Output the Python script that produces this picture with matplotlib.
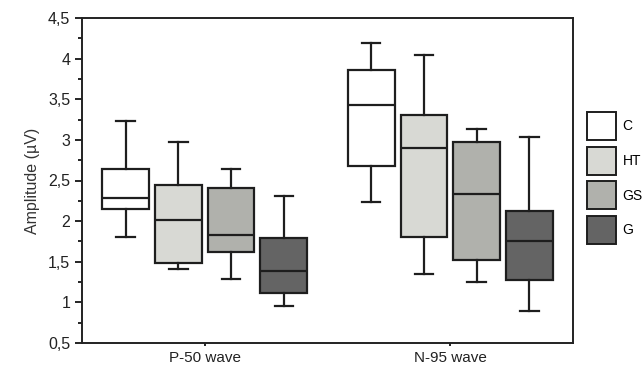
import matplotlib
matplotlib.use("Agg")
import matplotlib.pyplot as plt
from matplotlib.patches import Patch
from matplotlib.ticker import MultipleLocator, FuncFormatter

plt.rcParams["font.family"] = ["Liberation Sans", "DejaVu Sans"]

groups = ["C", "HT", "GS", "G"]
waves = ["P-50 wave", "N-95 wave"]
colors = ["#ffffff", "#d8d9d4", "#b0b1ac", "#646464"]

# per wave: lists over groups
whislo = {"P-50 wave": [1.81, 1.415, 1.29, 0.955], "N-95 wave": [2.23, 1.35, 1.25, 0.89]}
q1 = {"P-50 wave": [2.145, 1.49, 1.62, 1.12], "N-95 wave": [2.675, 1.81, 1.52, 1.27]}
med = {"P-50 wave": [2.285, 2.02, 1.83, 1.39], "N-95 wave": [3.425, 2.90, 2.34, 1.755]}
q3 = {"P-50 wave": [2.64, 2.44, 2.41, 1.79], "N-95 wave": [3.856, 3.31, 2.98, 2.12]}
whishi = {"P-50 wave": [3.23, 2.98, 2.64, 2.31], "N-95 wave": [4.196, 4.05, 3.13, 3.03]}

fig = plt.figure(figsize=(6.44, 3.66), dpi=100)
ax = fig.add_axes([82/644, 1 - 343/366, 491/644, 325/366])

spacing = 0.2147
offsets = [-1.5, -0.5, 0.5, 1.5]
edge = "#1e1e1e"
lw = 1.6
for wi, w in enumerate(waves):
    center = wi + 0.5
    for gi, g in enumerate(groups):
        st = [dict(med=med[w][gi], q1=q1[w][gi], q3=q3[w][gi],
                   whislo=whislo[w][gi], whishi=whishi[w][gi], fliers=[])]
        ax.bxp(st, positions=[center + offsets[gi] * spacing], widths=0.19,
               patch_artist=True, showfliers=False,
               boxprops=dict(facecolor=colors[gi], edgecolor=edge, linewidth=lw),
               medianprops=dict(color=edge, linewidth=lw),
               whiskerprops=dict(color=edge, linewidth=lw),
               capprops=dict(color=edge, linewidth=lw),
               capwidths=0.075, manage_ticks=False)

ax.set_xlim(0, 2)
ax.set_ylim(0.5, 4.5)
ax.set_xticks([0.5, 1.5])
ax.set_xticklabels(waves, fontsize=11, color="#222222")
ax.tick_params(axis="x", length=2, width=1.2, pad=4)
ax.yaxis.set_major_locator(MultipleLocator(0.5))
ax.yaxis.set_minor_locator(MultipleLocator(0.25))
ax.yaxis.set_major_formatter(FuncFormatter(lambda v, p: (f"{v:g}").replace(".", ",")))
ax.tick_params(axis="y", which="major", length=5, width=1.2, labelsize=11.5, labelcolor="#222222")
ax.tick_params(axis="y", which="minor", length=3, width=1.2)
ax.set_ylabel("Amplitude (µV)", fontsize=11.5, color="#333333", labelpad=6)
for s in ax.spines.values():
    s.set_linewidth(1.4)
    s.set_color("#222222")

handles = [Patch(facecolor=c, edgecolor=edge, linewidth=1.4) for c in colors]
fig.legend(handles, groups, loc="upper left", bbox_to_anchor=(587/644, 1 - 112/366),
           frameon=False, fontsize=10, handlelength=2.1, handleheight=2.7,
           labelspacing=0.5, handletextpad=0.45, borderaxespad=0, borderpad=0)

fig.savefig("out.png", dpi=100)
